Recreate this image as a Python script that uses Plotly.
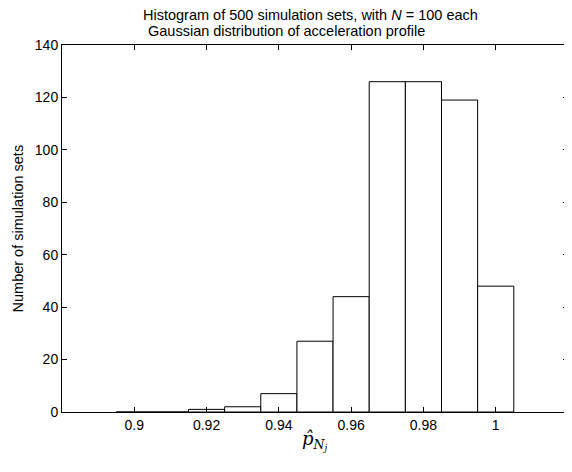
import plotly.graph_objects as go

bin_centers = [0.90, 0.91, 0.92, 0.93, 0.94, 0.95, 0.96, 0.97, 0.98, 0.99, 1.00]
counts = [0, 0, 1, 2, 7, 27, 44, 126, 126, 119, 48]
x_ticks = [0.9, 0.92, 0.94, 0.96, 0.98, 1.0]
x_tick_labels = ["0.9", "0.92", "0.94", "0.96", "0.98", "1"]
y_ticks = [0, 20, 40, 60, 80, 100, 120, 140]

title_line1 = "Histogram of 500 simulation sets, with <i>N</i> = 100 each"
title_line2 = "Gaussian distribution of acceleration profile"
y_label = "Number of simulation sets"
x_label = "<i>p̂</i><sub><i>N</i><sub><i>j</i></sub></sub>"

SANS = "Liberation Sans, Arial, Helvetica, sans-serif"

fig = go.Figure(go.Bar(
    x=bin_centers, y=counts, width=0.01,
    marker=dict(color="white", line=dict(color="black", width=1)),
))

# page body has an 8px default margin, so the figure is sized/offset to compensate
fig.update_layout(
    width=564, height=464,
    margin=dict(l=54, r=4, t=37, b=60),
    paper_bgcolor="white", plot_bgcolor="white",
    showlegend=False,
    font=dict(family=SANS, size=14, color="black"),
    xaxis=dict(
        range=[0.88, 1.02], tickvals=x_ticks, ticktext=x_tick_labels,
        ticks="inside", ticklen=5, tickcolor="black", mirror="ticks",
        showline=True, linecolor="black", linewidth=1, showgrid=False, zeroline=False,
        automargin=False, tickfont=dict(size=14),
    ),
    yaxis=dict(
        range=[0, 140], tickvals=y_ticks,
        ticks="inside", ticklen=5, tickcolor="black", mirror="ticks",
        showline=True, linecolor="black", linewidth=1, showgrid=False, zeroline=False,
        automargin=False, tickfont=dict(size=14),
    ),
    annotations=[
        dict(text=title_line1, xref="paper", yref="paper", x=0.491, y=1.0831,
             xanchor="center", yanchor="middle", showarrow=False,
             font=dict(family=SANS, size=14.5)),
        dict(text=title_line2, xref="paper", yref="paper", x=0.4427, y=1.0395,
             xanchor="center", yanchor="middle", showarrow=False,
             font=dict(family=SANS, size=14.5)),
        dict(text=y_label, xref="paper", yref="paper", x=-0.087, y=0.5,
             xanchor="center", yanchor="middle", textangle=-90, showarrow=False,
             font=dict(family=SANS, size=14.5)),
        dict(text=x_label, xref="paper", yref="paper", x=0.5, y=-0.079,
             xanchor="center", yanchor="middle", showarrow=False,
             font=dict(family="DejaVu Serif, serif", size=18)),
    ],
)

fig.write_html("out.html")
